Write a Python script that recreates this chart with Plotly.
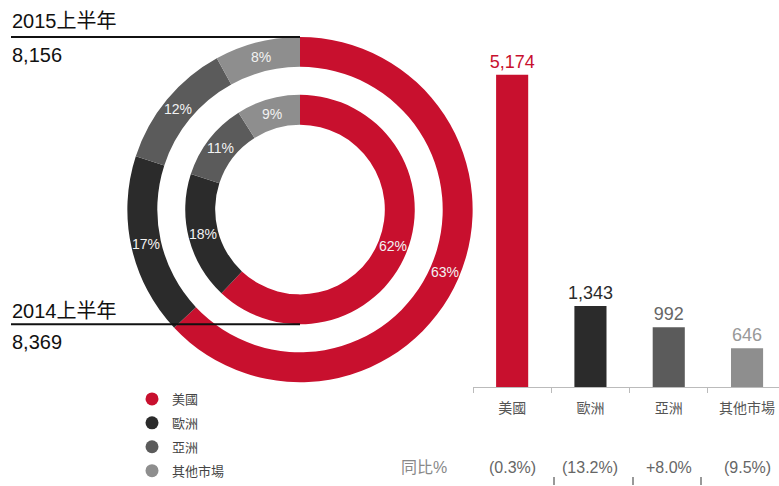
import math
import plotly.graph_objects as go

# ---- data ----
regions = ["美國", "歐洲", "亞洲", "其他市場"]
sales_2015h1 = [5174, 1343, 992, 646]
pct_2015h1 = [63, 17, 12, 8]
pct_2014h1 = [62, 18, 11, 9]
yoy_labels = ["(0.3%)", "(13.2%)", "+8.0%", "(9.5%)"]
total_2015_label = "8,156"
total_2014_label = "8,369"
period_2015 = "2015上半年"
period_2014 = "2014上半年"
yoy_title = "同比%"

colors = ["#c8102e", "#2b2b2b", "#5b5b5b", "#8e8e8e"]
value_colors = ["#c8102e", "#2b2b2b", "#666666", "#999999"]

W, H = 779, 486
FONT = "Liberation Sans, Arial, Noto Sans CJK TC, sans-serif"

def px(x):
    return x / W

def py(y):
    return 1 - y / H

# donut geometry (pixels)
CX, CY = 300, 210
OUTER_R, OUTER_HOLE = 173, 143
INNER_R, INNER_HOLE = 115, 85

fig = go.Figure()

def add_donut(values, r, hole_r):
    fig.add_trace(go.Pie(
        values=values, labels=regions, textinfo="none",
        hole=hole_r / r, sort=False, direction="clockwise", rotation=0,
        marker=dict(colors=colors, line=dict(width=0)),
        domain=dict(x=[px(CX - r), px(CX + r)], y=[py(CY + r), py(CY - r)]),
        showlegend=False, hoverinfo="label+percent",
    ))

add_donut(pct_2015h1, OUTER_R, OUTER_HOLE)
add_donut(pct_2014h1, INNER_R, INNER_HOLE)

# bars
fig.add_trace(go.Bar(
    x=regions, y=sales_2015h1, width=0.41,
    marker=dict(color=colors, line=dict(width=0)),
    text=[f"{v:,}" for v in sales_2015h1], texttemplate="%{text}",
    textposition="outside", cliponaxis=False, constraintext="none",
    textfont=dict(size=18, color=value_colors, family=FONT),
    showlegend=False,
))

# legend entries (circles)
for i, (name, c) in enumerate(zip(regions, colors)):
    fig.add_trace(go.Scatter(
        x=[None], y=[None], mode="markers", name=name,
        marker=dict(symbol="circle", size=13, color=c),
        legendgroup=f"g{i}", showlegend=True,
    ))

cat_w = 78.3
fig.update_layout(
    width=W, height=H,
    margin=dict(l=0, r=0, t=0, b=0),
    paper_bgcolor="white", plot_bgcolor="white",
    font=dict(family=FONT),
    xaxis=dict(
        domain=[px(473), 1], type="category",
        categoryorder="array", categoryarray=regions,
        range=[-0.5, -0.5 + (W - 473) / cat_w],
        showline=True, linecolor="#bbbbbb", linewidth=1,
        ticks="outside", tickson="boundaries", ticklen=5, tickcolor="#bbbbbb",
        tickfont=dict(size=14, color="#555555", family=FONT),
        ticklabelstandoff=8,
        showgrid=False, zeroline=False, fixedrange=True,
    ),
    yaxis=dict(
        domain=[py(388), 1], range=[0, 5174 * 388 / 313],
        visible=False, showgrid=False, zeroline=False,
    ),
    legend=dict(
        x=px(132), y=py(385), xanchor="left", yanchor="top",
        font=dict(size=13, color="#444444", family=FONT),
        tracegroupgap=4, bgcolor="rgba(0,0,0,0)",
    ),
)

annotations = [
    dict(text=period_2015, x=px(10), y=py(21), xanchor="left", yanchor="middle",
         font=dict(size=20, color="#111111")),
    dict(text=total_2015_label, x=px(10), y=py(55), xanchor="left", yanchor="middle",
         font=dict(size=20, color="#111111")),
    dict(text=period_2014, x=px(10), y=py(312), xanchor="left", yanchor="middle",
         font=dict(size=20, color="#111111")),
    dict(text=total_2014_label, x=px(10), y=py(343), xanchor="left", yanchor="middle",
         font=dict(size=20, color="#111111")),
    dict(text=yoy_title, x=px(424), y=py(468), xanchor="center", yanchor="middle",
         font=dict(size=16, color="#888888")),
]

# donut slice labels at each slice's mid-angle, mid-ring
def donut_labels(values, r, hole_r):
    total = sum(values)
    cum = 0
    rm = (r + hole_r) / 2
    for v in values:
        ang = (cum + v / 2) / total * 2 * math.pi
        cum += v
        x = CX + rm * math.sin(ang)
        y = CY - rm * math.cos(ang)
        annotations.append(dict(text=f"{v}%", x=px(x), y=py(y), xanchor="center",
                                yanchor="middle",
                                font=dict(size=14, color="#f2f2f2")))

donut_labels(pct_2015h1, OUTER_R, OUTER_HOLE)
donut_labels(pct_2014h1, INNER_R, INNER_HOLE)

for r, lab in zip(regions, yoy_labels):
    annotations.append(dict(text=lab, x=r, xref="x", y=py(468), yref="paper",
                            xanchor="center", yanchor="middle", showarrow=False,
                            font=dict(size=16, color="#666666", family=FONT)))
for a in annotations:
    a.setdefault("xref", "paper")
    a.setdefault("yref", "paper")
    a.setdefault("showarrow", False)
fig.update_layout(annotations=annotations)

shapes = [
    dict(type="line", xref="paper", yref="paper", x0=px(11), x1=px(300), y0=py(37), y1=py(37),
         line=dict(color="#111111", width=2)),
    dict(type="line", xref="paper", yref="paper", x0=px(11), x1=px(300), y0=py(325), y1=py(325),
         line=dict(color="#111111", width=2)),
]
for sx in [554, 633, 701]:
    shapes.append(dict(type="line", xref="paper", yref="paper", x0=px(sx), x1=px(sx),
                       y0=py(478), y1=py(486), line=dict(color="#999999", width=2)))
fig.update_layout(shapes=shapes)

fig.write_html(
    "out.html",
    config={"displayModeBar": False},
    post_script="document.documentElement.style.margin='0';"
                "document.body.style.margin='0';"
                "document.body.style.overflow='hidden';",
)
